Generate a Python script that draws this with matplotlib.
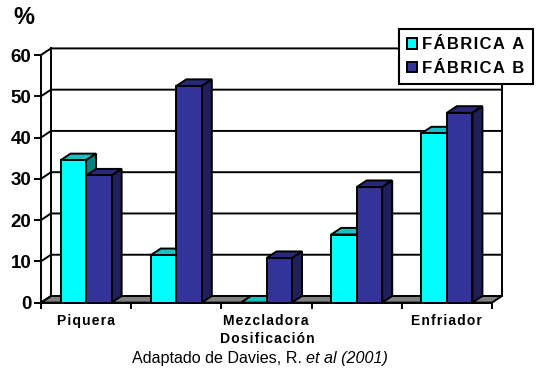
import numpy as np
import matplotlib
matplotlib.use('Agg')
import matplotlib.pyplot as plt
from matplotlib.patches import Polygon, Patch

categories = ["Piquera", "", "Mezcladora\nDosificación", "", "Enfriador"]
fabrica_a = [34.5, 11.5, 0, 16.5, 41]
fabrica_b = [30.8, 52.5, 10.8, 28, 46]
y_ticks = [0, 10, 20, 30, 40, 50, 60]
series_names = ["FÁBRICA A", "FÁBRICA B"]
caption = "Adaptado de Davies, R. "

plt.rcParams['font.family'] = ['Liberation Sans', 'DejaVu Sans']

W, H = 540, 373
DX = 10 / 90.2      # depth of the fake 3d, in category units
DY = 6.6 / 4.127    # same, in % units
BAR_W = 0.283
LW = 1.4


def track(s, sep='\u200a'):
    # letter spacing, the original text is tracked out
    return sep.join(s)


def bar3d(ax, x, v, front, top, side):
    ax.bar(x, v, BAR_W, align='edge', color=front, edgecolor='black', linewidth=LW, zorder=4, clip_on=False)
    ax.add_patch(Polygon([(x, v), (x + DX, v + DY), (x + BAR_W + DX, v + DY), (x + BAR_W, v)],
                         facecolor=top, edgecolor='black', linewidth=LW, zorder=3, clip_on=False))
    ax.add_patch(Polygon([(x + BAR_W, 0), (x + BAR_W + DX, DY), (x + BAR_W + DX, v + DY), (x + BAR_W, v)],
                         facecolor=side, edgecolor='black', linewidth=LW, zorder=3, clip_on=False))


fig = plt.figure(figsize=(W / 100, H / 100), dpi=100, facecolor='white')
ax = fig.add_axes([41 / W, 1 - 302.6 / H, (492 - 41) / W, (302.6 - 55) / H])
ax.set_xlim(0, 5)
ax.set_ylim(0, 60)
ax.patch.set_visible(False)

# floor and walls
ax.add_patch(Polygon([(0, 0), (DX, DY), (5 + DX, DY), (5, 0)], facecolor='#808080',
                     edgecolor='black', linewidth=LW, zorder=1, clip_on=False))
for y in y_ticks:
    ax.plot([0, DX, 5 + DX], [y, y + DY, y + DY], color='black', lw=LW, zorder=1, clip_on=False)
ax.plot([DX, DX], [DY, 60 + DY], color='black', lw=LW, zorder=1, clip_on=False)
ax.plot([5 + DX, 5 + DX], [DY, 60 + DY], color='black', lw=LW, zorder=1, clip_on=False)

# bars, left to right so the later ones overlap
for i in range(len(categories)):
    c = i + 0.5
    bar3d(ax, c - BAR_W, fabrica_a[i], '#00FFFF', '#1FBFBF', '#008080')
    bar3d(ax, c, fabrica_b[i], '#333399', '#29297A', '#1F1F5C')

for s in ['top', 'right']:
    ax.spines[s].set_visible(False)
for s in ['left', 'bottom']:
    ax.spines[s].set_linewidth(LW)
    ax.spines[s].set_zorder(5)

ax.set_yticks(y_ticks)
ax.set_xticks(range(6))
ax.set_xticklabels([])
ax.set_xticks(np.arange(5) + 0.5, [track(c) for c in categories], minor=True)
ax.tick_params(axis='x', which='major', length=4, width=LW, color='black')
ax.tick_params(axis='x', which='minor', length=0, pad=8.5, labelsize=10)
ax.tick_params(axis='y', length=5, width=LW, labelsize=13.5, pad=2)
for t in ax.get_xticklabels(minor=True):
    t.set_fontweight('bold')
    t.set_linespacing(1.35)
for t in ax.get_yticklabels():
    t.set_fontweight('bold')

fig.text(13 / W, 1 - 18 / H, '%', fontsize=17, fontweight='bold', ha='left', va='center')
t1 = fig.text(132 / W, 1 - 358 / H, caption, fontsize=11.6, ha='left', va='center')
fig.canvas.draw()
bb = t1.get_window_extent()
fig.text(bb.x1 / W, 1 - 358 / H, "et al (2001)", fontsize=11.6, style='italic', ha='left', va='center')

handles = [Patch(facecolor='#00FFFF', edgecolor='black', linewidth=LW),
           Patch(facecolor='#333399', edgecolor='black', linewidth=LW)]
leg = fig.legend(handles, [track(n) for n in series_names], loc='upper left',
                 bbox_to_anchor=(399 / W, 1 - 29 / H), fancybox=False, framealpha=1, edgecolor='black',
                 handlelength=0.6, handleheight=0.6, handletextpad=0.28, borderpad=0.5, labelspacing=0.5,
                 borderaxespad=0, prop={'weight': 'bold', 'size': 12})
leg.get_frame().set_linewidth(1.5)
leg.set_zorder(10)

fig.savefig('out.png', dpi=100)
